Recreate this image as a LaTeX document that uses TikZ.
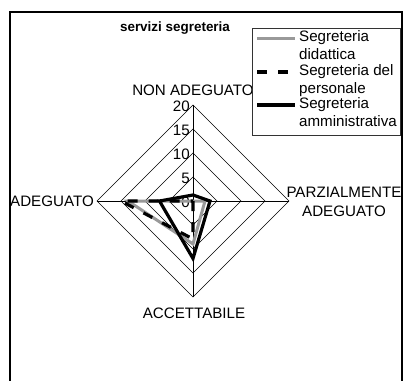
\documentclass[tikz,border=0pt]{standalone}
\usepackage{fontspec}
\setmainfont{Liberation Sans}
\usepackage{tikz}
\tikzset{
  grid/.style={
    draw=black,
    line width=0.7bp
    },
  didattica/.style={
    draw=black!40,
    line width=3bp,
    line join=miter
    },
  personale/.style={
    draw=black,
    line width=3.2bp,
    dash pattern=on 10bp off 11bp
    },
  amministrativa/.style={
    draw=black,
    line width=3.2bp,
    line join=miter
    },
  asse/.style={
    font=\fontsize{15.2}{19.5}\selectfont,
    align=center,
    inner sep=0pt
    },
  valore/.style={
    font=\fontsize{15.2}{16}\selectfont,
    anchor=east,
    inner sep=0pt
    },
  voce/.style={
    font=\fontsize{15.2}{18.5}\selectfont,
    align=left,
    anchor=north west,
    inner sep=0pt
    }
}

\begin{document}
\begin{tikzpicture}[x=1bp, y=-1bp]
\useasboundingbox (0,0) rectangle (403,381);
\fill[white] (0,0) rectangle (403,381);
\draw[line width=1.2bp] (10,400) -- (10,12) -- (402,12) -- (402,400);
\node (titolo) [font=\fontsize{13.5}{16}\selectfont\bfseries, inner sep=0pt] at (175,28) {servizi segreteria};
% griglia
\coordinate (centro) at (193,201);
\draw[grid] (193,105) -- (289,201) -- (193,297) -- (97,201) -- cycle;
\draw[grid] (193,129) -- (265,201) -- (193,273) -- (121,201) -- cycle;
\draw[grid] (193,153) -- (241,201) -- (193,249) -- (145,201) -- cycle;
\draw[grid] (193,177) -- (217,201) -- (193,225) -- (169,201) -- cycle;
\draw[grid] (193,105) -- (193,297);
\draw[grid] (97,201) -- (289,201);
\node (v20) [valore] at (190,106) {20};
\node (v15) [valore] at (190,130) {15};
\node (v10) [valore] at (190,154) {10};
\node (v5) [valore] at (190,178) {5};
\node (v0) [valore] at (190,202) {0};
% assi
\node (nonadeg) [asse] at (193,90) {NON ADEGUATO};
\node (parz) [asse] at (344,202) {PARZIALMENTE\\ADEGUATO};
\node (accett) [asse] at (194,313) {ACCETTABILE};
\node (adeg) [asse, anchor=east] at (94,201) {ADEGUATO};
% serie
\draw[didattica] (193,201) -- (205,201) -- (193,244) -- (128,201) -- cycle;
\draw[personale] (193,201) -- (193,239) -- (121,201) -- cycle;
\draw[amministrativa] (193,195) -- (210,201) -- (193,258.5) -- (159.5,201) -- cycle;
% legenda
\draw[line width=1bp, draw=black!80, fill=white] (252,28) rectangle (400,135);
\draw[didattica] (257,38) -- (295,38);
\draw[personale] (257,72) -- (295,72);
\draw[amministrativa] (257,105) -- (295,105);
\node (l1) [voce] at (299,30) {Segreteria\\didattica};
\node (l2) [voce] at (299,64) {Segreteria del\\personale};
\node (l3) [voce] at (299,97) {Segreteria\\amministrativa};
\end{tikzpicture}
\end{document}
